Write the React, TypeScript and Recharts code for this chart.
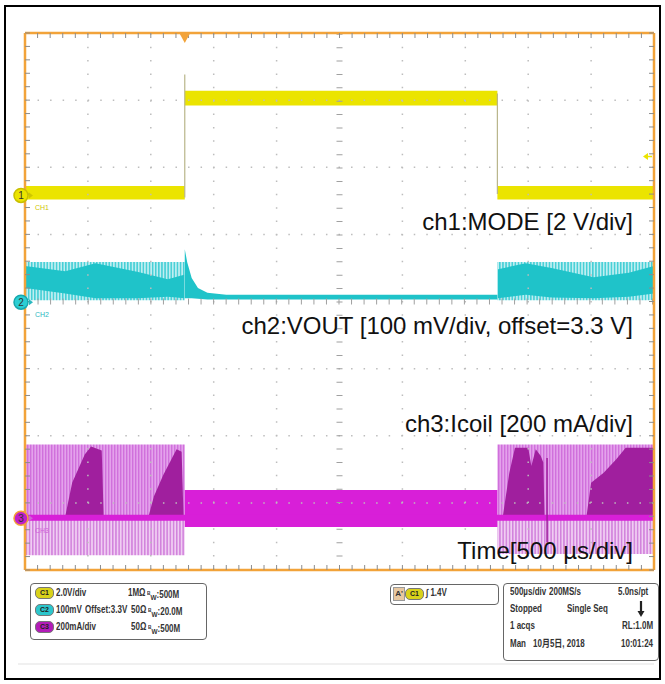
import React from 'react';
import { ComposedChart, Area, Line, XAxis, YAxis, ReferenceLine, ReferenceDot } from 'recharts';

// Screen is 10 x 8 divisions. x = time in div (500 µs/div), y = div counted from the bottom.
const xMajor = [1, 2, 3, 4, 6, 7, 8, 9];
const yMajor = [1, 2, 3, 5, 6, 7];
const xMinor = Array.from({ length: 51 }, (_, i) => i * 0.2);
const yMinor = Array.from({ length: 41 }, (_, i) => i * 0.2);

const triggerAt = 2.54;
const triggerLevel = 6.16;
const groundLevels = [5.58, 3.99, 0.77]; // ch1, ch2, ch3 markers

// ch1 MODE  [t, low, high]
const ch1Band = [
  [0, 5.52, 5.72],
  [2.54, 5.52, 5.72],
  [2.54, 6.92, 7.14],
  [7.51, 6.92, 7.14],
  [7.51, 5.52, 5.72],
  [10, 5.52, 5.72],
];
const ch1Edges = [
  [2.54, 5.55],
  [2.54, 7.38],
  [5, null],
  [7.51, 7.1],
  [7.51, 5.6],
];

// ch2 VOUT ripple envelope (light) and dense core, [t, low, high]
const ch2Light = [
  [[0, 4.02, 4.59], [2.54, 4.02, 4.59]],
  [[7.51, 4.02, 4.59], [10, 4.02, 4.59]],
];
const ch2Dense = [
  [[0, 4.2, 4.53], [0.64, 4.12, 4.45], [1.12, 4.05, 4.57], [1.8, 4.05, 4.44], [2.27, 4.07, 4.33], [2.53, 4.05, 4.4]],
  [[7.52, 4.05, 4.48], [7.96, 4.1, 4.57], [8.37, 4.06, 4.5], [9.04, 4.05, 4.36], [9.6, 4.07, 4.43], [10, 4.12, 4.53]],
];
const ch2Pfm = [
  [2.54, 4.05, 4.78],
  [2.58, 4.05, 4.58],
  [2.65, 4.05, 4.35],
  [2.75, 4.04, 4.2],
  [2.9, 4.03, 4.13],
  [3.2, 4.03, 4.1],
  [7.51, 4.03, 4.1],
];

// ch3 Icoil
const ch3Upper = [
  [[0, 0.78, 1.87], [2.54, 0.78, 1.87]],
  [[7.51, 0.78, 1.87], [10, 0.78, 1.87]],
];
const ch3Lower = [
  [[0, 0.22, 0.78], [2.54, 0.22, 0.78]],
  [[7.51, 0.24, 0.78], [10, 0.24, 0.78]],
];
const ch3Ramps = [
  [[0.644, 0.82, 0.82], [0.75, 0.82, 1.3], [0.95, 0.82, 1.72], [1.05, 0.82, 1.84], [1.22, 0.82, 1.78], [1.25, 0.82, 0.82]],
  [[1.97, 0.82, 0.82], [2.05, 0.82, 1.1], [2.2, 0.82, 1.42], [2.41, 0.82, 1.8], [2.49, 0.82, 1.76], [2.52, 0.82, 0.82]],
  [[7.6, 0.82, 0.82], [7.7, 0.82, 1.45], [7.79, 0.82, 1.82], [8.0, 0.82, 1.82], [8.05, 0.82, 1.55], [8.12, 0.82, 1.8], [8.2, 0.82, 1.7], [8.24, 0.82, 1.6], [8.26, 0.82, 0.82]],
  [[8.93, 0.82, 0.82], [9.0, 0.82, 1.3], [9.2, 0.82, 1.45], [9.4, 0.82, 1.65], [9.55, 0.82, 1.82], [10, 0.82, 1.82]],
];
const ch3Pfm = [[2.54, 0.64, 1.19], [7.51, 0.64, 1.19]];
const ch3Base = [[0, 0.78], [10, 0.78]];
const ch3Glitch = [[8.3, 1.67], [8.3, 0.41]];

const rng = (rows: number[][]) => rows.map(([t, lo, hi]) => ({ t, r: [lo, hi] }));
const pts = (rows: (number | null)[][]) => rows.map(([t, v]) => ({ t, v }));

const ORANGE = '#f2a33a';
const YEL = '#ebe400';
const CYAN = '#1fc3c9';
const MAG = '#d81fd8';
const DARK = '#a01f9e';
const GRID = '#bdbdbd';

const noAnim = { isAnimationActive: false, dot: false, activeDot: false } as any;

function Marker(props: any) {
  const { cx, cy, n, fill, ring, color, label } = props;
  const x = cx - 4;
  return (
    <g>
      <circle cx={x} cy={cy} r={7} fill={fill} stroke={ring} strokeWidth={1.5} />
      <text x={x} y={cy + 3.5} textAnchor="middle" fontSize={10} fontFamily="Liberation Sans, Arial" fill="#333">{n}</text>
      <path d={`M${x + 8},${cy - 3} L${x + 12},${cy} L${x + 8},${cy + 3} Z`} fill={color} />
      <text x={cx + 10} y={cy + 15} fontSize={7} fontFamily="Liberation Sans, Arial" fill={color}>{label}</text>
    </g>
  );
}

function Scope() {
  const axis = {
    type: 'number' as const,
    allowDataOverflow: true,
    interval: 0 as const,
    mirror: true,
    tick: { fill: 'none', fontSize: 1 },
    tickFormatter: () => '',
    tickSize: 5,
    axisLine: { stroke: ORANGE, strokeWidth: 2.5 },
    tickLine: { stroke: '#8c8c8c' },
  };
  return (
    <ComposedChart width={665} height={684} margin={{ top: 33, right: 11, bottom: 114, left: 25 }}>
      <XAxis xAxisId={0} dataKey="t" domain={[0, 10]} ticks={xMinor} height={1} {...axis} />
      <XAxis xAxisId="top" orientation="top" dataKey="t" domain={[0, 10]} ticks={xMinor} height={1} {...axis} />
      <YAxis yAxisId={0} domain={[0, 8]} ticks={yMinor} width={1} {...axis} />
      <YAxis yAxisId="right" orientation="right" domain={[0, 8]} ticks={yMinor} width={1} {...axis} />

      {xMajor.map((x) => (
        <ReferenceLine key={'gx' + x} x={x} stroke={GRID} strokeWidth={1.5} strokeDasharray="1.5 11.88" />
      ))}
      {yMajor.map((y) => (
        <ReferenceLine key={'gy' + y} y={y} stroke={GRID} strokeWidth={1.5} strokeDasharray="1.5 11.04" />
      ))}
      <ReferenceLine x={5} stroke="#a0a0a0" strokeWidth={6} strokeDasharray="1 12.38" />
      <ReferenceLine y={4} stroke="#a0a0a0" strokeWidth={6} strokeDasharray="1 11.54" />

      {ch3Lower.map((s, i) => (
        <Area key={'l' + i} data={rng(s)} dataKey="r" type="linear" fill="url(#pinkLow)" fillOpacity={1} stroke="none" {...noAnim} />
      ))}
      {ch3Upper.map((s, i) => (
        <Area key={'u' + i} data={rng(s)} dataKey="r" type="linear" fill="url(#pinkUp)" fillOpacity={1} stroke="none" {...noAnim} />
      ))}
      {ch3Ramps.map((s, i) => (
        <Area key={'r' + i} data={rng(s)} dataKey="r" type="linear" fill={DARK} fillOpacity={1} stroke="none" {...noAnim} />
      ))}
      <Area data={rng(ch3Pfm)} dataKey="r" type="linear" fill={MAG} fillOpacity={1} stroke="none" {...noAnim} />
      <Line data={pts(ch3Base)} dataKey="v" type="linear" stroke={MAG} strokeWidth={6} {...noAnim} />
      <Line data={pts(ch3Glitch)} dataKey="v" type="linear" stroke={DARK} strokeWidth={1.5} {...noAnim} />

      {ch2Light.map((s, i) => (
        <Area key={'cl' + i} data={rng(s)} dataKey="r" type="linear" fill="url(#cyanStripe)" fillOpacity={1} stroke="none" {...noAnim} />
      ))}
      {ch2Dense.map((s, i) => (
        <Area key={'cd' + i} data={rng(s)} dataKey="r" type="linear" fill={CYAN} fillOpacity={1} stroke="none" {...noAnim} />
      ))}
      <Area data={rng(ch2Pfm)} dataKey="r" type="linear" fill={CYAN} fillOpacity={1} stroke="none" {...noAnim} />

      <Area data={rng(ch1Band)} dataKey="r" type="linear" fill={YEL} fillOpacity={1} stroke="none" {...noAnim} />
      <Line data={pts(ch1Edges)} dataKey="v" type="linear" stroke="#b9b58a" strokeWidth={1.2} connectNulls={false} {...noAnim} />

      <ReferenceDot x={triggerAt} y={8} r={0} ifOverflow="visible"
        shape={(p: any) => <path d={`M${p.cx - 6},${p.cy - 1} L${p.cx + 6},${p.cy - 1} L${p.cx},${p.cy + 10} Z`} fill={ORANGE} />} />
      <ReferenceDot x={10} y={triggerLevel} r={0} ifOverflow="visible"
        shape={(p: any) => (
          <g>
            <path d={`M${p.cx - 11},${p.cy} L${p.cx - 6},${p.cy - 3.5} L${p.cx - 6},${p.cy + 3.5} Z`} fill={YEL} />
            <line x1={p.cx - 6} y1={p.cy} x2={p.cx - 2} y2={p.cy} stroke={YEL} strokeWidth={1.5} />
          </g>
        )} />
      <ReferenceDot x={0} y={groundLevels[0]} r={0} ifOverflow="visible"
        shape={(p: any) => <Marker {...p} n="1" fill="#ece400" ring="#c8bf00" color="#cfc600" label="CH1" />} />
      <ReferenceDot x={0} y={groundLevels[1]} r={0} ifOverflow="visible"
        shape={(p: any) => <Marker {...p} n="2" fill="#2ccfd4" ring="#16a8ae" color="#2ab8c0" label="CH2" />} />
      <ReferenceDot x={0} y={groundLevels[2]} r={0} ifOverflow="visible"
        shape={(p: any) => <Marker {...p} n="3" fill="#c020c8" ring={ORANGE} color="#d060d8" label="CH3" />} />
    </ComposedChart>
  );
}

const small: React.CSSProperties = {
  position: 'absolute',
  fontFamily: "'Liberation Sans', 'Noto Sans CJK SC', sans-serif",
  fontWeight: 'bold',
  fontSize: 10,
  color: '#333',
  whiteSpace: 'nowrap',
  lineHeight: '10px',
  transform: 'scaleX(0.8)',
  transformOrigin: '0 50%',
};

function T({ x, y, children }: { x: number; y: number; children: React.ReactNode }) {
  return <div style={{ ...small, left: x, top: y }}>{children}</div>;
}

function Pill({ x, y, bg, label }: { x: number; y: number; bg: string; label: string }) {
  return (
    <div style={{
      ...small, transform: 'none', left: x, top: y, width: 17, height: 10, borderRadius: 5, background: bg,
      fontSize: 7, textAlign: 'center', lineHeight: '10px', color: '#222', border: '1px solid #777',
    }}>{label}</div>
  );
}

const Bw = ({ v }: { v: string }) => (
  <span><span style={{ fontSize: 6, verticalAlign: 3 }}>B</span><span style={{ fontSize: 8, verticalAlign: -2 }}>W</span>:{v}</span>
);

function Panel() {
  const box: React.CSSProperties = { position: 'absolute', border: '1px solid #666', borderRadius: 4, background: '#fff', boxSizing: 'border-box' };
  return (
    <>
      <div style={{ ...box, left: 30, top: 583, width: 177, height: 57 }} />
      <Pill x={35} y={587} bg="#d9d21a" label="C1" />
      <T x={56} y={588}>2.0V/div</T>
      <T x={128} y={588}>1MΩ</T>
      <T x={147} y={588}><Bw v="500M" /></T>
      <Pill x={35} y={604} bg="#2cc6cc" label="C2" />
      <T x={56} y={605}>100mV</T>
      <T x={85} y={605}>Offset:3.3V</T>
      <T x={131} y={605}>50Ω</T>
      <T x={148} y={605}><Bw v="20.0M" /></T>
      <Pill x={35} y={621} bg="#b21cb8" label="C3" />
      <T x={56} y={622}>200mA/div</T>
      <T x={131} y={622}>50Ω</T>
      <T x={148} y={622}><Bw v="500M" /></T>

      <div style={{ ...box, left: 390, top: 584, width: 109, height: 21 }} />
      <div style={{ ...small, transform: 'none', left: 393, top: 587, width: 10, height: 12, background: '#e8c8a0', border: '1px solid #999', fontSize: 8, textAlign: 'center', lineHeight: '12px' }}>A'</div>
      <Pill x={405} y={588} bg="#d9d21a" label="C1" />
      <T x={426} y={588}>∫ 1.4V</T>

      <div style={{ ...box, left: 503, top: 583, width: 156, height: 78 }} />
      <T x={510} y={587}>500µs/div</T>
      <T x={549} y={587}>200MS/s</T>
      <T x={618} y={587}>5.0ns/pt</T>
      <T x={510} y={604}>Stopped</T>
      <T x={567} y={604}>Single Seq</T>
      <svg width={10} height={18} style={{ position: 'absolute', left: 636, top: 600 }}>
        <line x1={5} y1={1} x2={5} y2={12} stroke="#222" strokeWidth={2.2} />
        <path d="M1.5,11 L8.5,11 L5,17 Z" fill="#222" />
      </svg>
      <T x={510} y={621}>1 acqs</T>
      <T x={622} y={621}>RL:1.0M</T>
      <T x={510} y={639}>Man</T>
      <T x={533} y={639}>10月5日, 2018</T>
      <T x={621} y={639}>10:01:24</T>
      <div style={{ position: 'absolute', left: 18, top: 663, width: 636, height: 2, background: '#f0f0f0' }} />
    </>
  );
}

const captions = [
  { text: 'ch1:MODE [2 V/div]', y: 230 },
  { text: 'ch2:VOUT [100 mV/div, offset=3.3 V]', y: 334 },
  { text: 'ch3:Icoil [200 mA/div]', y: 432 },
  { text: 'Time[500 µs/div]', y: 559 },
];

export default function App() {
  return (
    <div style={{ position: 'absolute', left: 0, top: 0, width: 665, height: 684, background: '#fff', overflow: 'hidden' }}>
      <svg width={0} height={0} style={{ position: 'absolute' }}>
        <defs>
          <pattern id="pinkUp" width={3} height={10} patternUnits="userSpaceOnUse">
            <rect width={3} height={10} fill="#e4a2ec" />
            <rect width={1.4} height={10} fill="#d070dc" />
          </pattern>
          <pattern id="pinkLow" width={3.2} height={10} patternUnits="userSpaceOnUse">
            <rect width={3.2} height={10} fill="#f0cdf3" />
            <rect width={1.5} height={10} fill="#d282dc" />
          </pattern>
          <pattern id="cyanStripe" width={3.1} height={10} patternUnits="userSpaceOnUse">
            <rect width={3.1} height={10} fill="#bfeef1" />
            <rect width={1.5} height={10} fill="#45cfd6" />
          </pattern>
        </defs>
      </svg>
      <div style={{ position: 'absolute', left: 4, top: 5, width: 657, height: 675, border: '2px solid #000', boxSizing: 'border-box' }} />
      <div style={{ position: 'absolute', left: 0, top: 0 }}>
        <Scope />
      </div>
      <svg width={665} height={684} style={{ position: 'absolute', left: 0, top: 0, pointerEvents: 'none' }}>
        {captions.map((c) => (
          <text key={c.text} x={633} y={c.y} textAnchor="end" fontSize={24} fontFamily="'Liberation Sans', Arial, sans-serif" fill="#111">{c.text}</text>
        ))}
      </svg>
      <Panel />
    </div>
  );
}
